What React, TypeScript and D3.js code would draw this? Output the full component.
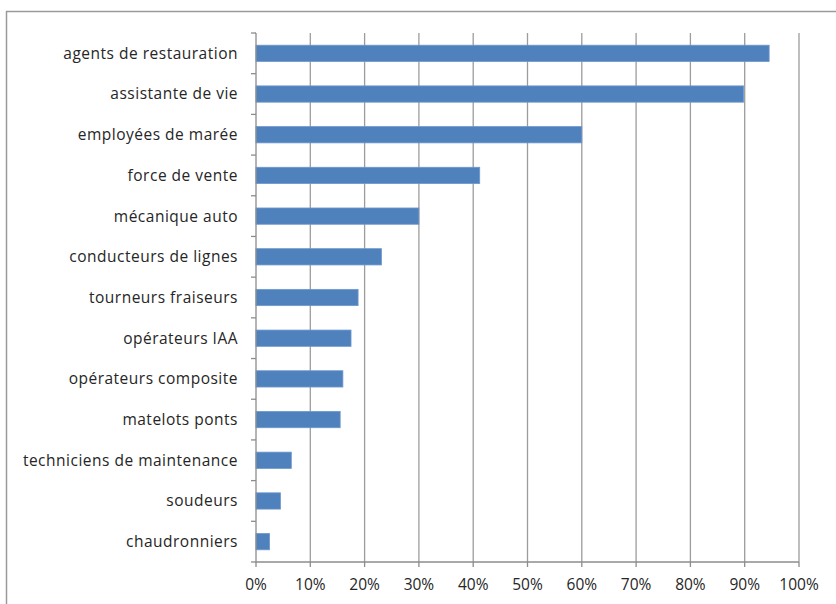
import React from "react";
import * as d3 from "d3";

const categories = [
  "agents de restauration",
  "assistante de vie",
  "employées de marée",
  "force de vente",
  "mécanique auto",
  "conducteurs de lignes",
  "tourneurs fraiseurs",
  "opérateurs IAA",
  "opérateurs composite",
  "matelots ponts",
  "techniciens de maintenance",
  "soudeurs",
  "chaudronniers",
];
const values = [0.945, 0.898, 0.6, 0.412, 0.3, 0.231, 0.188, 0.175, 0.16, 0.155, 0.065, 0.045, 0.025];
const xTicks = [0, 0.1, 0.2, 0.3, 0.4, 0.5, 0.6, 0.7, 0.8, 0.9, 1.0];

const W = 836;
const H = 604;
const left = 256;
const right = 799;
const top = 33;
const bottom = 562;

export default function App() {
  const x = d3.scaleLinear().domain([0, 1]).range([left, right]);
  const y = d3.scaleBand<string>().domain(categories).range([top, bottom]).paddingInner(0.6).paddingOuter(0.3);
  const step = (bottom - top) / categories.length;
  const font = "'Open Sans', sans-serif";
  const fmt = d3.format(".0%");
  return (
    <svg width={W} height={H} style={{ position: "absolute", left: 0, top: 0, background: "#fff" }}>
      <line x1={6} x2={W} y1={11.5} y2={11.5} stroke="#9a9a9a" strokeWidth={1.5} />
      <line x1={6.5} x2={6.5} y1={11} y2={H} stroke="#9a9a9a" strokeWidth={1.5} />
      {xTicks.slice(1).map((t) => (
        <line key={"g" + t} x1={x(t)} x2={x(t)} y1={top} y2={bottom} stroke="#9c9c9c" strokeWidth={1.3} />
      ))}
      {categories.map((c, i) => (
        <rect key={c} x={x(0)} y={y(c)!} width={x(values[i]) - x(0)} height={y.bandwidth()} fill="#4f81bd" stroke="#6e97cc" strokeWidth={0.8} />
      ))}
      <line x1={left} x2={left} y1={top} y2={bottom} stroke="#8c8c8c" strokeWidth={1.3} />
      <line x1={left} x2={right} y1={bottom} y2={bottom} stroke="#8c8c8c" strokeWidth={1.3} />
      {d3.range(categories.length + 1).map((i) => (
        <line key={"yt" + i} x1={left - 5} x2={left} y1={top + i * step} y2={top + i * step} stroke="#8c8c8c" strokeWidth={1.3} />
      ))}
      {xTicks.map((t) => (
        <line key={"xt" + t} x1={x(t)} x2={x(t)} y1={bottom} y2={bottom + 5} stroke="#8c8c8c" strokeWidth={1.3} />
      ))}
      {categories.map((c) => (
        <text key={"l" + c} x={238} y={y(c)! + y.bandwidth() / 2} dy="0.35em" textAnchor="end" fontFamily={font} fontSize={15.5} letterSpacing={0.5} fill="#262626">
          {c}
        </text>
      ))}
      {xTicks.map((t) => (
        <text key={"xl" + t} x={x(t)} y={585} dy="0.35em" textAnchor="middle" fontFamily={font} fontSize={15.5} fill="#262626">
          {fmt(t)}
        </text>
      ))}
    </svg>
  );
}
